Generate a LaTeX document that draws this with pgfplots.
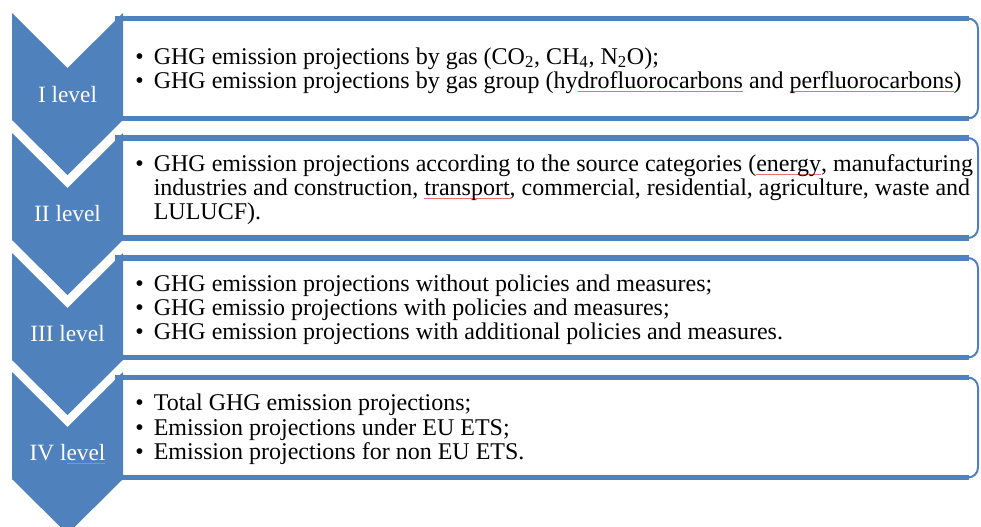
\documentclass[border=0pt]{standalone}
\usepackage{pgfplots}
\pgfplotsset{compat=1.18}
\usepackage{fontspec}
\setmainfont{Liberation Serif}
\definecolor{bl}{RGB}{79,129,189}
\definecolor{sqc}{RGB}{235,110,120}
\newcommand\sq[1]{\leavevmode\setbox0\hbox{#1}\rlap{\textcolor{sqc}{\rule[-2.3pt]{\wd0}{0.35pt}}}\box0\relax}
\newcommand\bx[2]{%
  \fill[white] (axis cs:118,#1) rectangle (axis cs:978,#2);
  \draw[bl, line width=1.5pt, rounded corners=7.5pt] (axis cs:115,#1) -- (axis cs:978,#1) -- (axis cs:978,#2) -- (axis cs:115,#2);
  \draw[bl, line width=4.1pt] (axis cs:115,#1) -- (axis cs:969,#1);
  \draw[bl, line width=4.1pt] (axis cs:115,#2) -- (axis cs:969,#2);
}
\newcommand\bl[2]{%
  \node[anchor=base west, inner sep=0pt, font=\fontsize{18}{20}\selectfont] at (axis cs:135,#1) {\textbullet};
  \node[anchor=base west, inner sep=0pt, font=\fontsize{18}{20}\selectfont] at (axis cs:153.5,#1) {#2};
}
\newcommand\tl[2]{%
  \node[anchor=base west, inner sep=0pt, font=\fontsize{18}{20}\selectfont] at (axis cs:153.5,#1) {#2};
}
\newcommand\lab[2]{%
  \node[anchor=base, inner sep=0pt, text=white, font=\fontsize{17.5}{19}\selectfont] at (axis cs:67.5,#1) {#2};
}
\begin{document}
\begin{tikzpicture}
\begin{axis}[scale only axis, width=735.75pt, height=394.5pt,
  xmin=0, xmax=981, ymin=0, ymax=526, y dir=reverse, hide axis, clip=true]
\path (axis cs:0,0) rectangle (axis cs:981,526);
% boxes
\bx{18.5}{118.5}
\bx{138}{238}
\bx{258}{357.5}
\bx{377.5}{477.5}
% chevrons
\addplot[fill=bl, draw=none] coordinates {(12,13) (67.5,68) (123,13) (123,120) (67.5,175) (12,120)} -- cycle;
\addplot[fill=bl, draw=none] coordinates {(12,133) (67.5,188) (123,133) (123,240) (67.5,295) (12,240)} -- cycle;
\addplot[fill=bl, draw=none] coordinates {(12,253) (67.5,308) (123,253) (123,360) (67.5,415) (12,360)} -- cycle;
\addplot[fill=bl, draw=none] coordinates {(12,372) (67.5,427) (123,372) (123,479) (67.5,534) (12,479)} -- cycle;
% labels
\lab{102.5}{I level}
\lab{221.8}{II level}
\lab{341}{III level}
\lab{460.4}{IV l\sq{evel}}
% texts
\bl{64}{GHG emission projections by gas (CO\textsubscript{2}, CH\textsubscript{4}, N\textsubscript{2}O);}
\bl{88.3}{GHG emission projections by gas group (hy\sq{drofluorocarbons} and \sq{perfluorocarbons})}
\bl{171.6}{GHG emission projections according to the source categories (\sq{energy}, manufacturing}
\tl{195.6}{industries and construction, \sq{transport}, commercial, residential, agriculture, waste and}
\tl{219.6}{LULUCF).}
\bl{291.7}{GHG emission projections without policies and measures;}
\bl{315.5}{GHG emissio projections with policies and measures;}
\bl{339.3}{GHG emission projections with additional policies and measures.}
\bl{410.5}{Total GHG emission projections;}
\bl{435}{Emission projections under EU ETS;}
\bl{459.3}{Emission projections for non EU ETS.}
\end{axis}
\end{tikzpicture}
\end{document}
